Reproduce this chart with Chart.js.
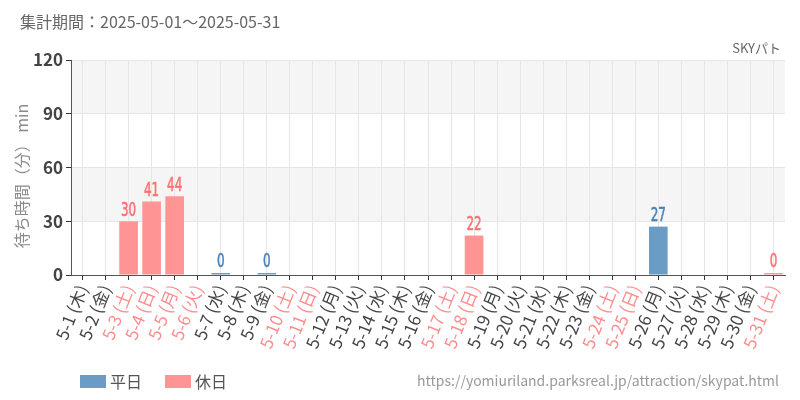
<!DOCTYPE html>
<html><head><meta charset="utf-8">
<script src="https://cdn.jsdelivr.net/npm/chart.js@4.4.0/dist/chart.umd.min.js"></script>
<style>html,body{margin:0;padding:0;background:#fff}#wrap{width:800px;height:400px;position:relative}</style>
</head><body><div id="wrap"><canvas id="c"></canvas></div>
<script>
const categories = ['5-1 (木)','5-2 (金)','5-3 (土)','5-4 (日)','5-5 (月)','5-6 (火)','5-7 (水)','5-8 (木)','5-9 (金)','5-10 (土)','5-11 (日)','5-12 (月)','5-13 (火)','5-14 (水)','5-15 (木)','5-16 (金)','5-17 (土)','5-18 (日)','5-19 (月)','5-20 (火)','5-21 (水)','5-22 (木)','5-23 (金)','5-24 (土)','5-25 (日)','5-26 (月)','5-27 (火)','5-28 (水)','5-29 (木)','5-30 (金)','5-31 (土)'];
const holidayFlags = [0,0,1,1,1,1,0,0,0,1,1,0,0,0,0,0,1,1,0,0,0,0,0,1,1,0,0,0,0,0,1];
const weekdayValues = [null,null,null,null,null,null,0,null,0,null,null,null,null,null,null,null,null,null,null,null,null,null,null,null,null,27,null,null,null,null,null];
const holidayValues = [null,null,30,41,44,null,null,null,null,null,null,null,null,null,null,null,null,22,null,null,null,null,null,null,null,null,null,null,null,null,0];
const yTicks = [0,30,60,90,120];
const seriesNames = ['平日','休日'];
const titleText = '集計期間：2025-05-01～2025-05-31';
const subtitleText = 'SKYパト';
const sourceText = 'https://yomiuriland.parksreal.jp/attraction/skypat.html';
const yTitle = '待ち時間（分） min';

const FONT = "'Noto Sans CJK JP','Noto Sans',sans-serif";
const COND = "'DejaVu Sans','Noto Sans',sans-serif";
const fills = ['#6b9cc5','#ff9494'];
const labelColors = ['#4a82b4','#ff7070'];

const decor = {
  id:'decor',
  beforeDraw(chart){
    const {ctx, chartArea:a, scales:{y}} = chart;
    ctx.save();
    ctx.fillStyle = '#f5f5f5';
    for (let i = 1; i + 1 < yTicks.length; i += 2) {
      const t = y.getPixelForValue(yTicks[i+1]), b = y.getPixelForValue(yTicks[i]);
      ctx.fillRect(a.left, t, a.right - a.left, b - t);
    }
    ctx.restore();
  },
  afterDatasetsDraw(chart){
    const ctx = chart.ctx;
    chart.data.datasets.forEach((ds, di) => {
      const meta = chart.getDatasetMeta(di);
      meta.data.forEach((el, i) => {
        const v = ds.data[i];
        if (v === null || v === undefined) return;
        ctx.save();
        ctx.translate(el.x, el.y - 1);
        ctx.scale(0.63, 1);
        ctx.font = '19px ' + COND;
        ctx.textAlign = 'center';
        ctx.textBaseline = 'bottom';
        ctx.fillStyle = labelColors[di];
        ctx.strokeStyle = labelColors[di];
        ctx.lineWidth = 0.6;
        ctx.fillText(String(v), 0, 0);
        ctx.strokeText(String(v), 0, 0);
        ctx.restore();
      });
    });
  },
  afterDraw(chart){
    const ctx = chart.ctx;
    ctx.save();
    ctx.textBaseline = 'middle';
    ctx.fillStyle = '#666';
    ctx.font = '16px ' + FONT;
    ctx.textAlign = 'left';
    ctx.fillText(titleText, 20, 22);
    ctx.font = '13px ' + FONT;
    ctx.textAlign = 'right';
    ctx.fillText(subtitleText, 781, 48);
    ctx.fillStyle = '#999';
    ctx.font = '14px ' + FONT;
    ctx.fillText(sourceText, 779, 381);
    ctx.textAlign = 'left';
    ctx.font = '16px ' + FONT;
    let x = 80;
    seriesNames.forEach((n, i) => {
      ctx.fillStyle = fills[i];
      ctx.fillRect(x, 375, 26, 13);
      ctx.fillStyle = '#555';
      ctx.fillText(n, x + 30, 382);
      x += 85;
    });
    ctx.save();
    ctx.translate(22, 176);
    ctx.rotate(-Math.PI / 2);
    ctx.textAlign = 'center';
    ctx.fillStyle = '#8a8a8a';
    ctx.font = '16px ' + FONT;
    ctx.fillText(yTitle, 0, 0);
    ctx.restore();
    ctx.restore();
  }
};

new Chart(document.getElementById('c'), {
  type: 'bar',
  data: {
    labels: categories,
    datasets: [
      {label: seriesNames[0], data: weekdayValues, backgroundColor: fills[0], barPercentage: 0.9, categoryPercentage: 0.9, minBarLength: 2},
      {label: seriesNames[1], data: holidayValues, backgroundColor: fills[1], barPercentage: 0.9, categoryPercentage: 0.9, minBarLength: 2}
    ]
  },
  options: {
    responsive: true, maintainAspectRatio: false, animation: false,
    devicePixelRatio: 1,
    layout: {padding: {top: 60, left: 0, right: 15, bottom: 36}},
    plugins: {legend: {display: false}, tooltip: {enabled: false}, title: {display: false}},
    scales: {
      x: {
        stacked: true, offset: true,
        grid: {offset: false, color: '#e6e6e6', tickColor: '#333', tickLength: 5},
        border: {color: '#555'},
        ticks: {autoSkip: false, maxRotation: 68, minRotation: 68, padding: 2,
          font: {size: 17, family: FONT},
          color: c => holidayFlags[c.index] ? '#ff8c8c' : '#444'},
        afterFit: s => { s.height = 89; }
      },
      y: {
        min: 0, max: 120,
        afterBuildTicks: s => { s.ticks = yTicks.map(v => ({value: v})); },
        grid: {color: '#e6e6e6', tickColor: '#333', tickLength: 5},
        border: {color: '#555'},
        ticks: {padding: 3, font: {size: 17, weight: '600', family: FONT}, color: '#444'},
        title: {display: false},
        afterFit: s => { s.width = 71; }
      }
    }
  },
  plugins: [decor]
});
</script></body></html>
